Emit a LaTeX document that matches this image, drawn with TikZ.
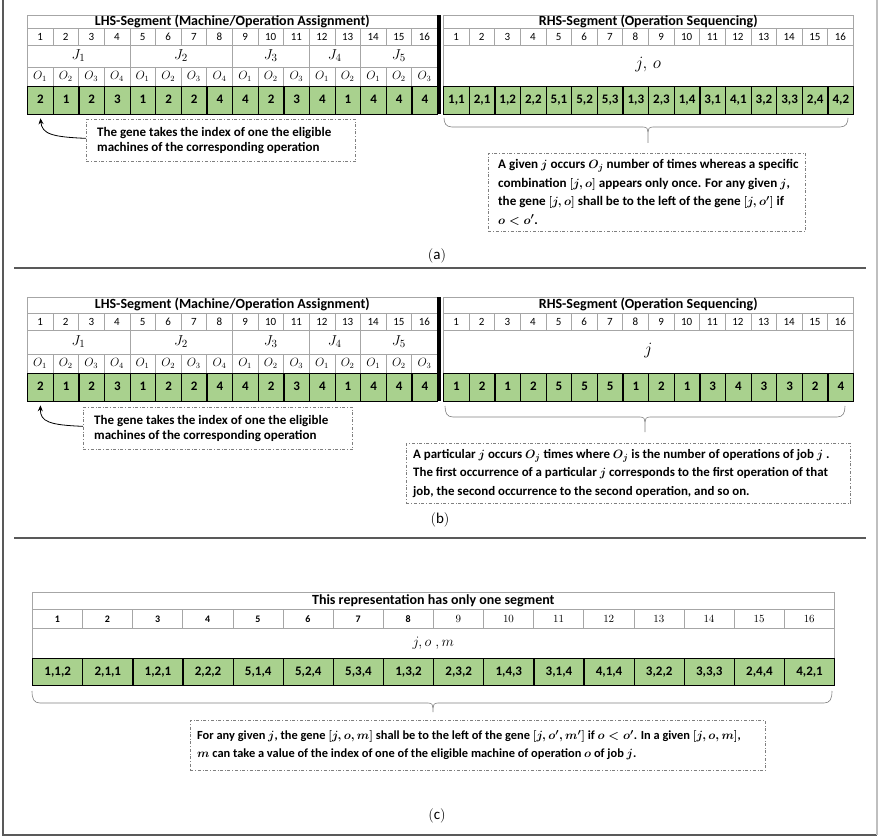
\documentclass[tikz,border=0pt]{standalone}
\usepackage{fontspec}
\setmainfont{Carlito}
\usetikzlibrary{arrows.meta}
\definecolor{genefill}{HTML}{A9D18E}
\definecolor{gridc}{HTML}{A6A6A6}
\definecolor{boxc}{HTML}{7F7F7F}
\definecolor{divc}{HTML}{595959}
\newcommand\hdrfont{\fontsize{14}{16}\selectfont\bfseries}
\newcommand\numfont{\fontsize{11}{12}\selectfont}
\newcommand\genefont{\fontsize{13}{14}\selectfont\bfseries}
\newcommand\cellW{25.625}
\newcommand\cellC{50.125}
\tikzset{
  cell/.style={draw=gridc, line width=0.6pt, inner sep=0pt, anchor=north west, text height=7.5pt, text depth=0.5pt},
  hdrcell/.style={cell, font=\hdrfont, text height=9pt, text depth=2.5pt},
  jcell/.style={cell, font=\fontsize{15}{16}\selectfont, text height=10pt, text depth=3pt},
  ocell/.style={cell, font=\fontsize{12}{13}\selectfont, text height=7pt, text depth=2pt},
  genecell/.style={draw=black, fill=genefill, line width=1.3pt, inner sep=0pt, anchor=north west, font=\genefont, text height=8.5pt, text depth=2pt},
  notebox/.style={draw=boxc, dash dot, line width=0.7pt, inner sep=0pt, anchor=north west},
  notetext/.style={inner sep=0pt, anchor=west, align=left},
  bracestyle/.style={draw=boxc, line width=0.6pt},
  divider/.style={draw=divc, line width=1.2pt},
  plabel/.style={font=\fontsize{15}{17}\selectfont, inner sep=0pt},
  pointer/.style={-{Stealth[length=6pt,width=5pt]}, line width=0.8pt, black}
}
% LHS panel: #1 prefix, #2..#7 = y0..y5
\newcommand\lhspanel[7]{%
  \node[hdrcell, minimum width=410pt, minimum height={(#3-#2)*1pt}] (#1-lh) at (27,#2) {LHS-Segment (Machine/Operation Assignment)};
  \foreach \i in {1,...,16}{%
    \node[cell, minimum width={\cellW*1pt}, minimum height={(#4-#3)*1pt}, font=\numfont] (#1-ln\i) at ({27+(\i-1)*\cellW},#3) {\i};
  }
  \foreach \s/\n/\k in {1/4/1,5/4/2,9/3/3,12/2/4,14/3/5}{%
    \node[jcell, minimum width={\n*\cellW*1pt}, minimum height={(#5-#4)*1pt}] (#1-lj\k) at ({27+(\s-1)*\cellW},#4) {$J_{\k}$};
  }
  \foreach \o [count=\i] in {1,2,3,4,1,2,3,4,1,2,3,1,2,1,2,3}{%
    \node[ocell, minimum width={\cellW*1pt}, minimum height={(#6-#5)*1pt}] (#1-lo\i) at ({27+(\i-1)*\cellW},#5) {$O_{\o}$};
  }
  \foreach \g [count=\i] in {2,1,2,3,1,2,2,4,4,2,3,4,1,4,4,4}{%
    \node[genecell, minimum width={\cellW*1pt}, minimum height={(#7-#6)*1pt}] (#1-lg\i) at ({27+(\i-1)*\cellW},#6) {\g};
  }
  \fill[black] (437,#2) rectangle (441,#7);
}
% RHS panel: #1 prefix, #2 y0, #3 y1, #4 y2, #5 y4, #6 y5, #7 label, #8 genes
\newcommand\rhspanel[8]{%
  \node[hdrcell, minimum width=410pt, minimum height={(#3-#2)*1pt}] (#1-rh) at (443,#2) {RHS-Segment (Operation Sequencing)};
  \foreach \i in {1,...,16}{%
    \node[cell, minimum width={\cellW*1pt}, minimum height={(#4-#3)*1pt}, font=\numfont] (#1-rn\i) at ({443+(\i-1)*\cellW},#3) {\i};
  }
  \node[cell, minimum width=410pt, minimum height={(#5-#4)*1pt}, font=\fontsize{17}{19}\selectfont, text height=12pt, text depth=6pt] (#1-rj) at (443,#4) {#7};
  \foreach \g [count=\i] in {#8}{%
    \node[genecell, minimum width={\cellW*1pt}, minimum height={(#6-#5)*1pt}] (#1-rg\i) at ({443+(\i-1)*\cellW},#5) {\g};
  }
}
% brace: #1 left, #2 right, #3 top, #4 mid, #5 tip, #6 tip x
\newcommand\gbrace[6]{%
  \draw[bracestyle] (#1,#3) .. controls (#1,{#4-4}) and ({#1+2},#4) .. ({#1+8},#4) -- ({#6-5},#4) .. controls ({#6-1},#4) and (#6,{#4+2}) .. (#6,{#4+5}) -- (#6,#5);
  \draw[bracestyle] (#2,#3) .. controls (#2,{#4-4}) and ({#2-2},#4) .. ({#2-8},#4) -- ({#6+5},#4) .. controls ({#6+1},#4) and (#6,{#4+2}) .. (#6,{#4+5});
}
\newcommand\leftnote{The gene takes the index of one the eligible\\machines of the corresponding operation}
\begin{document}
\begin{tikzpicture}[x=1pt,y=-1pt]
\useasboundingbox (0,0) rectangle (879,837);
% frame
\draw[draw=divc, line width=1.2pt] (3,0) -- (3,835) -- (877,835);
\draw[draw=gray!50, line width=1.5pt] (877,0) -- (877,835);
\draw[divider] (14,268) -- (866,268);
\draw[divider] (14,538) -- (866,538);

% ================= (a) =================
\lhspanel{a}{15}{28}{45}{67}{86}{114}
\rhspanel{a}{15}{28}{45}{86}{114}{$j,\,o$}{{1,1},{2,1},{1,2},{2,2},{5,1},{5,2},{5,3},{1,3},{2,3},{1,4},{3,1},{4,1},{3,2},{3,3},{2,4},{4,2}}
\node[notebox, minimum width=269pt, minimum height=42pt] (a-lb) at (86,119) {};
\node[notetext, font=\fontsize{13}{15.5}\selectfont\bfseries] (a-lt) at ([xshift=11pt]a-lb.west) {\leftnote};
\draw[pointer] ([yshift=2pt]a-lb.west) .. controls (52,137) and (42,134) .. ([yshift=-3pt]a-lg1.south);
\gbrace{444}{848}{118}{127}{143}{648}
\node[notebox, minimum width=317pt, minimum height=78pt] (a-rb) at (488,153) {};
\node[notetext, font=\fontsize{13.1}{18.5}\selectfont\bfseries\mathversion{bold}] (a-rt) at ([xshift=10pt]a-rb.west)
 {A given $j$ occurs $O_j$ number of times whereas a specific\\combination $[j,o]$ appears only once. For any given $j$,\\the gene $[j,o]$ shall be to the left of the gene $[j,o']$ if\\$o<o'$.};
\node[plabel] (a-lab) at (437,256) {$(\mathrm{a})$};

% ================= (b) =================
\lhspanel{b}{297}{313}{330}{354}{373}{401}
\rhspanel{b}{297}{313}{330}{373}{401}{$j$}{1,2,1,2,5,5,5,1,2,1,3,4,3,3,2,4}
\node[notebox, minimum width=269pt, minimum height=42pt] (b-lb) at (83,407) {};
\node[notetext, font=\fontsize{13}{15.5}\selectfont\bfseries] (b-lt) at ([xshift=11pt]b-lb.west) {\leftnote};
\draw[pointer] ([yshift=2pt]b-lb.west) .. controls (50,425) and (40,422) .. ([yshift=-3pt]b-lg1.south);
\gbrace{445}{845}{406}{417}{432}{645}
\node[notebox, minimum width=444pt, minimum height=60pt] (b-rb) at (406,443) {};
\node[notetext, font=\fontsize{12.9}{18.5}\selectfont\bfseries\mathversion{bold}] (b-rt) at ([xshift=7pt]b-rb.west)
 {A particular $j$ occurs $O_j$ times where $O_j$ is the number of operations of job $j$ .\\The first occurrence of a particular $j$ corresponds to the first operation of that\\job, the second occurrence to the second operation, and so on.};
\node[plabel] (b-lab) at (440,520) {$(\mathrm{b})$};

% ================= (c) =================
\node[hdrcell, minimum width=802pt, minimum height=17pt] (c-h) at (32,592) {This representation has only one segment};
\foreach \i in {1,...,8}{%
  \node[cell, minimum width={\cellC*1pt}, minimum height=19pt, font=\fontsize{10}{11}\selectfont\bfseries] (c-n\i) at ({32+(\i-1)*\cellC},609) {\i};
}
\foreach \i in {9,...,16}{%
  \node[cell, minimum width={\cellC*1pt}, minimum height=19pt, font=\fontsize{10.5}{11}\selectfont] (c-n\i) at ({32+(\i-1)*\cellC},609) {$\i$};
}
\node[cell, minimum width=802pt, minimum height=30pt, font=\fontsize{14.5}{16}\selectfont, text height=10pt, text depth=3pt] (c-j) at (32,628) {$j,o\;,m$};
\foreach \g [count=\i] in {{1,1,2},{2,1,1},{1,2,1},{2,2,2},{5,1,4},{5,2,4},{5,3,4},{1,3,2},{2,3,2},{1,4,3},{3,1,4},{4,1,4},{3,2,2},{3,3,3},{2,4,4},{4,2,1}}{%
  \node[genecell, minimum width={\cellC*1pt}, minimum height=27pt] (c-g\i) at ({32+(\i-1)*\cellC},658) {\g};
}
\gbrace{32}{832}{691}{703}{712}{433}
\node[notebox, minimum width=575pt, minimum height=50pt] (c-b) at (190,720) {};
\node[notetext, font=\fontsize{12.4}{18}\selectfont\bfseries\mathversion{bold}] (c-t) at ([xshift=7pt]c-b.west)
 {For any given $j$, the gene $[j,o,m]$ shall be to the left of the gene $[j,o',m']$ if $o<o'$. In a given $[j,o,m]$,\\$m$ can take a value of the index of one of the eligible machine of operation $o$ of job $j$.};
\node[plabel] (c-lab) at (437,816) {$(\mathrm{c})$};
\end{tikzpicture}
\end{document}
